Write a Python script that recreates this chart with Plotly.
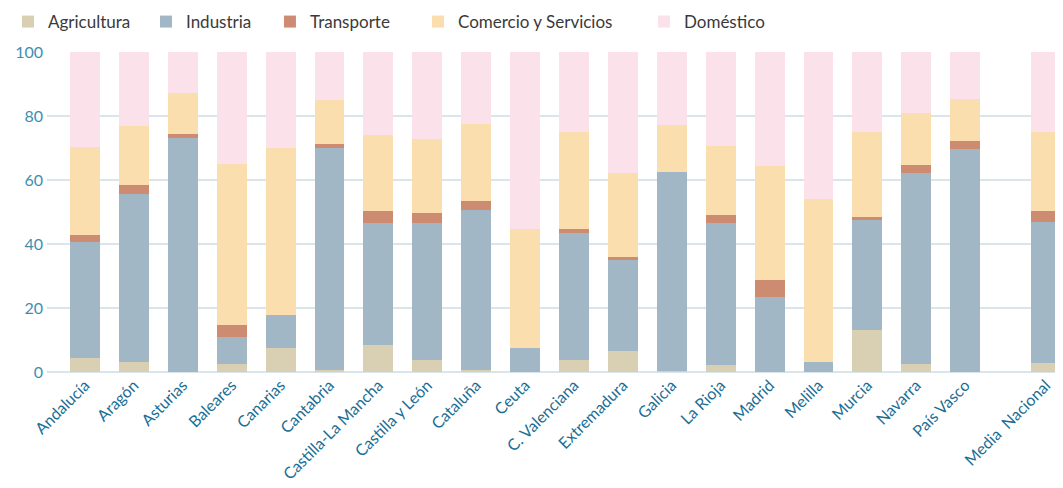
import plotly.graph_objects as go

regions = ["Andalucía", "Aragón", "Asturias", "Baleares", "Canarias", "Cantabria",
           "Castilla-La Mancha", "Castilla y León", "Cataluña", "Ceuta",
           "C. Valenciana", "Extremadura", "Galicia", "La Rioja", "Madrid",
           "Melilla", "Murcia", "Navarra", "País Vasco", "Media  Nacional"]

agricultura = [4.4, 3.1, 0.0, 2.5, 7.5, 0.6, 8.4, 3.75, 0.6, 0.0,
               3.75, 6.6, 0.3, 2.2, 0.0, 0.0, 13.1, 2.5, 0.0, 2.8]
industria = [36.2, 52.5, 73.1, 8.4, 10.3, 69.4, 38.2, 42.85, 50.0, 7.5,
             39.65, 28.4, 62.2, 44.4, 23.4, 3.1, 34.4, 59.7, 69.7, 44.1]
transporte = [2.2, 2.8, 1.3, 3.8, 0.0, 1.3, 3.7, 3.1, 2.8, 0.0,
              1.3, 0.9, 0.0, 2.5, 5.35, 0.0, 0.9, 2.5, 2.5, 3.4]
comercio = [27.5, 18.5, 12.8, 50.3, 52.2, 13.7, 23.7, 23.1, 24.1, 37.2,
            30.3, 26.3, 14.7, 21.5, 35.65, 51.0, 26.6, 16.2, 13.1, 24.7]
domestico = [29.7, 23.1, 12.8, 35.0, 30.0, 15.0, 26.0, 27.2, 22.5, 55.3,
             25.0, 37.8, 22.8, 29.4, 35.6, 45.9, 25.0, 19.1, 14.7, 25.0]

series = [
    ("Agricultura", agricultura, "#d9cfb3"),
    ("Industria", industria, "#a1b7c6"),
    ("Transporte", transporte, "#cd8c71"),
    ("Comercio y Servicios", comercio, "#fadeae"),
    ("Doméstico", domestico, "#fbe1e9"),
]

# national average is set slightly apart from the regions
positions = list(range(len(regions) - 1)) + [len(regions) - 1 + 0.65]

legend_x = [-0.0095, 0.1308, 0.2483, 0.3886, 0.6028]
legend_ids = ["legend", "legend2", "legend3", "legend4", "legend5"]

fig = go.Figure()
for (name, vals, color), lid in zip(series, legend_ids):
    fig.add_trace(go.Bar(
        x=positions, y=vals, name=name, width=0.61, legend=lid,
        marker=dict(color=color, line=dict(width=0)),
    ))

layout_legends = {}
for lid, lx in zip(legend_ids, legend_x):
    layout_legends[lid] = dict(
        orientation="h", x=lx, y=0.9708, xref="container", yref="container",
        xanchor="left", yanchor="middle",
        font=dict(size=17, color="#3a3a3a"), bgcolor="rgba(0,0,0,0)",
    )

fig.update_layout(
    barmode="stack",
    showlegend=True,
    width=1055, height=480,
    margin=dict(l=39, r=0, t=44, b=116, autoexpand=False),
    paper_bgcolor="white", plot_bgcolor="white",
    font=dict(family="Lato, 'Open Sans', sans-serif", size=15, color="#444"),
    xaxis=dict(
        range=[-0.777, 20.0], automargin=False,
        tickvals=positions, ticktext=regions, tickangle=-45,
        tickfont=dict(size=16, color="#1a6e94"),
        showgrid=False, zeroline=False, showline=False, ticks="",
    ),
    yaxis=dict(
        range=[0, 100], tickvals=[0, 20, 40, 60, 80, 100], automargin=False,
        tickfont=dict(size=16, color="#3d8fb0"),
        showgrid=True, gridcolor="#dae5eb", gridwidth=2,
        zeroline=True, zerolinecolor="#dae5eb", zerolinewidth=2,
        showline=False, ticks="", ticklabelstandoff=3,
    ),
    **layout_legends,
)

fig.write_html("out.html")
